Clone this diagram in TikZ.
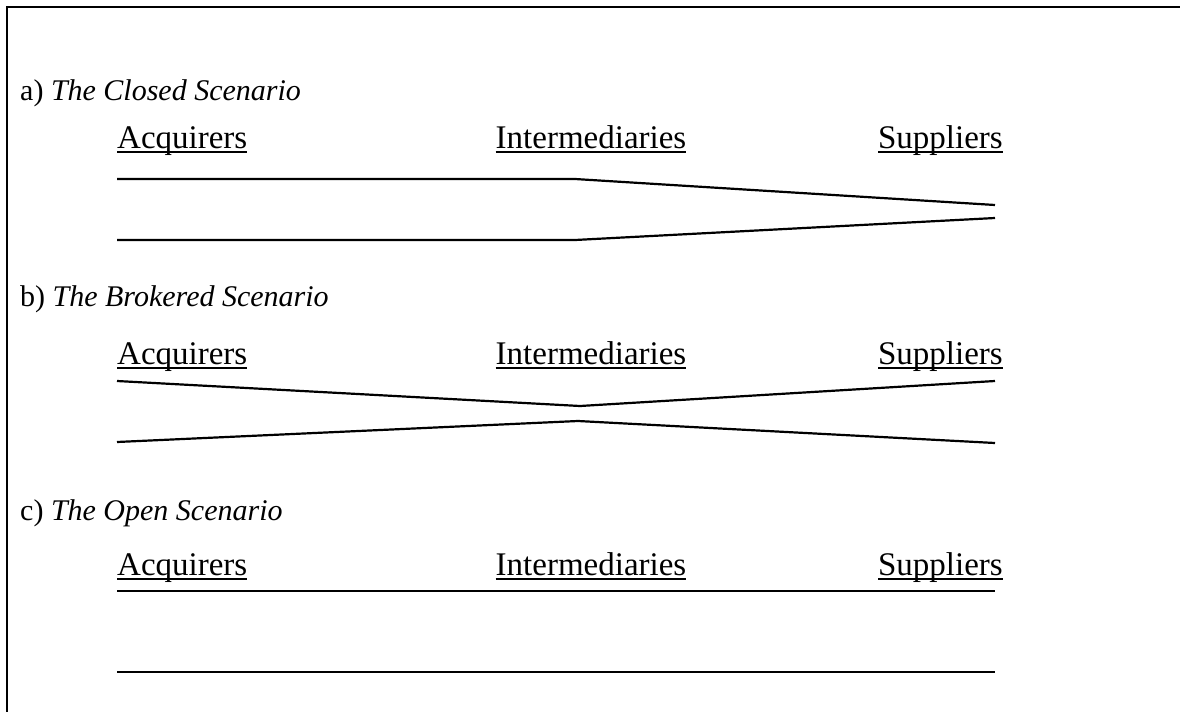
\documentclass[tikz,border=0pt]{standalone}
\usepackage{fontspec}
\setmainfont{Liberation Serif}
\newcommand\myul[1]{\setbox0\hbox{#1}\rlap{\vrule height -3.4pt depth 5.2pt width \wd0}\box0}
\begin{document}
\begin{tikzpicture}[x=1pt,y=-1pt,
  txt/.style={inner sep=0pt,anchor=base west,font=\fontsize{30}{36}\selectfont},
  lbl/.style={inner sep=0pt,anchor=base west,font=\fontsize{33}{39}\selectfont},
  col/.style={inner sep=0pt,anchor=base,font=\fontsize{33}{39}\selectfont},
  flow/.style={line width=2.2pt,line join=round},
  frame/.style={line width=2.2pt}]
\useasboundingbox (0,0) rectangle (1180,712);
% frame (top and left only)
\coordinate (fTL) at (7,7);
\coordinate (fTR) at (1180,7);
\coordinate (fBL) at (7,712);
\draw[frame] (fTR) -- (fTL) -- (fBL);

% ---- a) closed
\node[txt] (ha) at (20,100) {a) \textit{The Closed Scenario}};
\node[lbl] (aA) at (117,148) {\myul{Acquirers}};
\node[col] (aI) at (591,148) {\myul{Intermediaries}};
\node[lbl,anchor=base east] (aS) at (1003,148) {\myul{Suppliers}};
\coordinate (a1s) at (117,179);
\coordinate (a1m) at (575,179);
\coordinate (a1e) at (995,205);
\coordinate (a2s) at (117,240);
\coordinate (a2m) at (575,240);
\coordinate (a2e) at (995,218);
\draw[flow] (a1s) -- (a1m) -- (a1e);
\draw[flow] (a2s) -- (a2m) -- (a2e);

% ---- b) brokered
\node[txt] (hb) at (20,306) {b) \textit{The Brokered Scenario}};
\node[lbl] (bA) at (117,364) {\myul{Acquirers}};
\node[col] (bI) at (591,364) {\myul{Intermediaries}};
\node[lbl,anchor=base east] (bS) at (1003,364) {\myul{Suppliers}};
\coordinate (b1s) at (117,381);
\coordinate (b1m) at (580,406);
\coordinate (b1e) at (995,381);
\coordinate (b2s) at (117,442);
\coordinate (b2m) at (578,421);
\coordinate (b2e) at (995,443);
\draw[flow] (b1s) -- (b1m) -- (b1e);
\draw[flow] (b2s) -- (b2m) -- (b2e);

% ---- c) open
\node[txt] (hc) at (20,520) {c) \textit{The Open Scenario}};
\node[lbl] (cA) at (117,575) {\myul{Acquirers}};
\node[col] (cI) at (591,575) {\myul{Intermediaries}};
\node[lbl,anchor=base east] (cS) at (1003,575) {\myul{Suppliers}};
\coordinate (c1s) at (117,591);
\coordinate (c1e) at (995,591);
\coordinate (c2s) at (117,672);
\coordinate (c2e) at (995,672);
\draw[flow] (c1s) -- (c1e);
\draw[flow] (c2s) -- (c2e);
\end{tikzpicture}
\end{document}
